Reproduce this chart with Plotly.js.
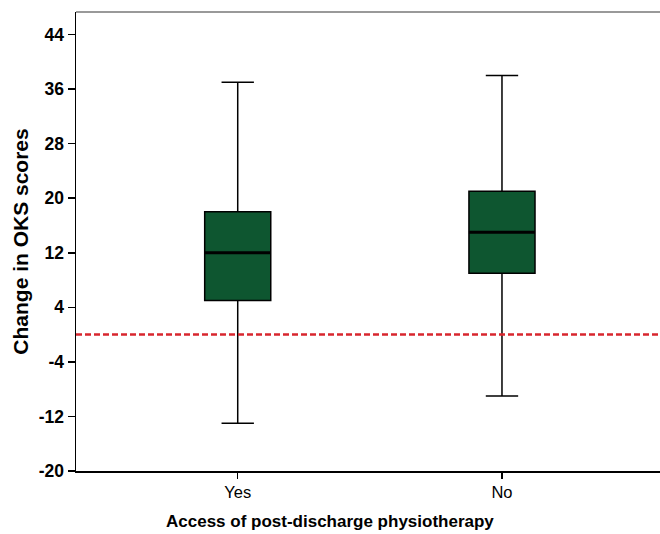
<!DOCTYPE html>
<html>
<head>
<meta charset="utf-8">
<script src="https://cdn.plot.ly/plotly-3.0.1.min.js"></script>
<style>html,body{margin:0;padding:0;background:#fff;}#chart{width:660px;height:534px;}</style>
</head>
<body>
<div id="chart"></div>
<script>
const categories = ["Yes", "No"];
const lowerWhisker = [-13, -9];
const q1Values = [5, 9];
const medianValues = [12, 15];
const q3Values = [18, 21];
const upperWhisker = [37, 38];
const referenceValue = 0;
const yTicks = [-20, -12, -4, 4, 12, 20, 28, 36, 44];
const xTitle = 'Access of post-discharge physiotherapy';
const yTitle = 'Change in OKS scores';

const boxWidth = 0.25;

const traces = [{
  type: 'box',
  x: categories,
  q1: q1Values,
  median: medianValues,
  q3: q3Values,
  lowerfence: lowerWhisker,
  upperfence: upperWhisker,
  width: boxWidth,
  whiskerwidth: 0.49,
  fillcolor: '#0e5630',
  line: {color: '#000000', width: 1.5},
  boxpoints: false,
  hoverinfo: 'skip',
  showlegend: false
}];

const medianShapes = categories.map((c, i) => ({
  type: 'line', xref: 'x', yref: 'y',
  x0: i - boxWidth / 2, x1: i + boxWidth / 2,
  y0: medianValues[i], y1: medianValues[i],
  line: {color: '#000000', width: 3}, layer: 'above'
}));

const layout = {
  width: 660, height: 534,
  margin: {l: 76, r: 0, t: 12, b: 63},
  paper_bgcolor: '#ffffff', plot_bgcolor: '#ffffff',
  font: {family: 'Liberation Sans, Arial, sans-serif', color: '#000'},
  xaxis: {
    type: 'category',
    range: [-0.612, 1.598],
    showline: true, linecolor: '#000', linewidth: 1.5,
    ticks: 'outside', ticklen: 6, tickcolor: '#000', tickwidth: 1.5,
    showgrid: false, zeroline: false,
    tickfont: {size: 16.5, color: '#000'}
  },
  yaxis: {
    range: [-20, 47.3],
    tickvals: yTicks,
    ticktext: yTicks.map(String),
    showline: true, linecolor: '#000', linewidth: 1.5,
    ticks: 'outside', ticklen: 7, tickcolor: '#000', tickwidth: 1.5,
    showgrid: false, zeroline: false,
    tickfont: {size: 17.5, color: '#000', weight: 'bold'},
    title: {text: '<b>' + yTitle + '</b>', font: {size: 21, color: '#000'}, standoff: 4}
  },
  annotations: [{
    text: '<b>' + xTitle + '</b>', xref: 'paper', yref: 'paper',
    x: 0.435, y: -0.111, xanchor: 'center', yanchor: 'middle',
    showarrow: false, font: {size: 17, color: '#000'}
  }],
  shapes: [
    {type: 'line', xref: 'paper', x0: 0, x1: 1, yref: 'y', y0: referenceValue, y1: referenceValue,
     line: {color: '#d8262e', width: 2.5, dash: '6px,3px'}, layer: 'above'},
    {type: 'line', xref: 'paper', x0: 0, x1: 1, yref: 'paper', y0: 1, y1: 1,
     line: {color: '#777777', width: 1.5}}
  ].concat(medianShapes)
};

Plotly.newPlot('chart', traces, layout, {displayModeBar: false, staticPlot: true});
</script>
</body>
</html>
